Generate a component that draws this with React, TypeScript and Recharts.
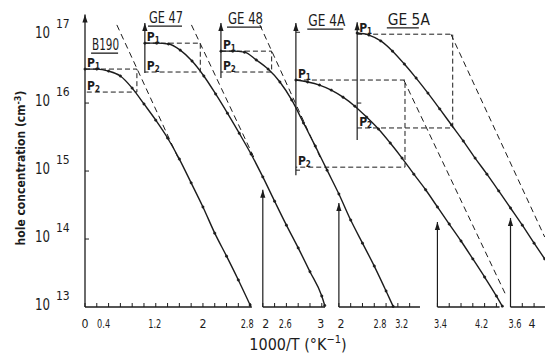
import React from 'react';
import { ComposedChart, Line, XAxis, YAxis, ReferenceDot, Label } from 'recharts';

const W = 545;
const H = 358;
const INK = '#1c1c1c';
const FONT = '"Liberation Sans Narrow","DejaVu Sans Condensed","Arial Narrow","Liberation Sans",sans-serif';
const Y_MIN = 1e13;
const Y_TOP = 2e17;

// each sample is drawn against its own 1000/T origin, shifted along the shared scale
const sampleNames = ['B190', 'GE47', 'GE48', 'GE4A', 'GE5A'];
const sampleOffsets = [0, 1.015, 2.305, 2.576, 3.615];

// measured curves: local 1000/T (K^-1) and hole concentration (cm^-3)
const b190X = [0, 0.2, 0.4, 0.6, 0.8, 1.0, 1.2, 1.4, 1.6, 1.8, 2.0, 2.2, 2.4, 2.6, 2.8];
const b190P = [3.16e16, 3.16e16, 2.95e16, 2.5e16, 1.66e16, 9.7e15, 5.6e15, 3.06e15, 1.5e15, 6.7e14, 2.96e14, 1.22e14, 5.6e13, 2.5e13, 1.07e13];

const ge47X = [0, 0.2, 0.4, 0.6, 0.8, 1.0, 1.2, 1.4, 1.6, 1.8, 2.0, 2.2, 2.4, 2.6, 2.8, 3.0, 3.05];
const ge47P = [7.6e16, 7.6e16, 7.4e16, 6.0e16, 4.15e16, 2.5e16, 1.36e16, 7.1e15, 3.6e15, 1.78e15, 8.2e14, 3.6e14, 1.6e14, 7.4e13, 3.3e13, 1.45e13, 1.05e13];

const ge48X = [0, 0.2, 0.4, 0.6, 0.8, 1.0, 1.2, 1.4, 1.6, 1.8, 2.0, 2.2, 2.4, 2.6, 2.8, 2.92];
const ge48P = [5.8e16, 5.8e16, 5.6e16, 4.3e16, 3.16e16, 2.04e16, 1.11e16, 5.1e15, 2.33e15, 1.03e15, 4.6e14, 1.9e14, 8.7e13, 4.0e13, 1.72e13, 1.02e13];

const ge4aX = [1.0, 1.2, 1.4, 1.6, 1.8, 2.0, 2.2, 2.4, 2.6, 2.8, 3.0, 3.2, 3.4, 3.6, 3.8, 4.0, 4.2, 4.4, 4.5];
const ge4aP = [2.18e16, 2.04e16, 1.84e16, 1.55e16, 1.22e16, 9.0e15, 6.2e15, 4.15e15, 2.58e15, 1.55e15, 9.0e14, 5.3e14, 2.96e14, 1.66e14, 9.35e13, 5.1e13, 2.76e13, 1.45e13, 1.03e13];

const ge5aX = [1.0, 1.2, 1.4, 1.6, 1.8, 2.0, 2.2, 2.4, 2.6, 2.8, 3.0, 3.2, 3.4, 3.6, 3.8, 4.0, 4.18];
const ge5aP = [1.07e17, 1.0e17, 8.2e16, 5.8e16, 3.75e16, 2.33e16, 1.4e16, 8.2e15, 4.75e15, 2.76e15, 1.55e15, 9.0e14, 5.1e14, 2.86e14, 1.6e14, 8.7e13, 5.1e13];

const curveX = [b190X, ge47X, ge48X, ge4aX, ge5aX];
const curveP = [b190P, ge47P, ge48P, ge4aP, ge5aP];

// p1 / p2 construction (per sample)
const p1Levels = [3.16e16, 7.6e16, 5.8e16, 2.18e16, 1.03e17];
const p2Levels = [1.45e16, 2.86e16, 2.86e16, 1.14e15, 4.3e15];
const pStartX = [0, 0, 0, 1.0, 1.0];
const pCornerX = [0.88, 0.94, 0.86, 2.85, 2.62];

// dashed asymptotes (local x, p) -> (local x, p)
const asymX1 = [0.54, 0.79, 0.66, 2.83, 2.59];
const asymP1 = [1.41e17, 1.41e17, 1.41e17, 2.18e16, 1.03e17];
const asymX2 = [1.58, 1.87, 1.68, 4.56, 4.18];
const asymP2 = [1.55e15, 1.45e15, 1.6e15, 1.5e13, 1.07e14];

// small vertical axes at top of each sample (B190 uses the main axis)
const insetLow = [0, 2.76e16, 2.33e16, 8.7e14, 2.86e15];
const insetHigh = [0, 1.5e17, 1.5e17, 1.5e17, 1.54e17];
const insetTicks: number[][] = [[], [], [], [1.1e17, 1.03e15], [1e16]];

// titles
const titleText = ['B190', 'GE 47', 'GE 48', 'GE 4A', 'GE 5A'];
const titleX = [0.12, 0.07, 0.12, 1.21, 1.52];
const titleP = [6.0e16, 1.5e17, 1.45e17, 1.35e17, 1.41e17];
const titleWidth = [27, 34, 35, 37, 42];
const underlineWidth = [27, 34, 35, 36, 32];

// bottom axis segments (belonging to samples 0..4)
const segStart = [0, 2.0, 2.0, 3.4, 3.6];
const segEnd = [2.83, 3.055, 3.375, 4.454, 4.185];
const segArrowTop = [0, 5.3e14, 3.4e14, 1.78e14, 2.04e14];
const segTicks = [
  [0, 0.2, 0.4, 0.6, 0.8, 1, 1.2, 1.4, 1.6, 1.8, 2, 2.2, 2.4, 2.6, 2.8],
  [2, 2.2, 2.4, 2.6, 2.8, 3],
  [2, 2.2, 2.4, 2.6, 2.8, 3, 3.2],
  [3.4, 3.6, 3.8, 4, 4.2, 4.4],
  [3.6, 3.8, 4],
];
const segLabels = [
  ['0', '0.4', '1.2', '2', '2.8'],
  ['2', '2.6', '3'],
  ['2', '2.8', '3.2'],
  ['3.4', '4.2'],
  ['3.6', '4'],
];
// hand-lettered label placement relative to its tick (px)
const segLabelNudge = [
  [0, -5, -1, 0, -3],
  [3, -13, -1],
  [2, -6, -8],
  [3, -3],
  [4.5, -2],
];
const yTicks = [1e13, 1e14, 1e15, 1e16, 1e17];

const r4 = (v: number) => Math.round(v * 10000) / 10000;
const toU = (x: number, i: number) => r4(x + sampleOffsets[i]);

const xTicks: number[] = [];
const xLabelMap: Record<string, { text: string; dx: number }> = {};
segTicks.forEach((ts, i) => ts.forEach((t) => xTicks.push(toU(t, i))));
segLabels.forEach((ls, i) =>
  ls.forEach((l, k) => {
    xLabelMap[toU(parseFloat(l), i).toFixed(3)] = { text: l, dx: segLabelNudge[i][k] };
  })
);

function XTick(props: any) {
  const { x, y, payload } = props;
  const lab = xLabelMap[Number(payload.value).toFixed(3)];
  return (
    <g>
      <line x1={x} x2={x} y1={y} y2={y - 4} stroke={INK} strokeWidth={1} />
      {lab !== undefined && (
        <text x={x + lab.dx} y={y + 21} textAnchor="middle" fontSize={13} fontFamily={FONT} fill={INK}
          textLength={lab.text.length === 1 ? 7 : 13} lengthAdjust="spacingAndGlyphs">{lab.text}</text>
      )}
    </g>
  );
}

function YTick(props: any) {
  const { x, y, payload } = props;
  const exp = Math.round(Math.log10(payload.value));
  return (
    <g>
      {exp > 13 && exp < 17 && <line x1={x} x2={x + 4} y1={y} y2={y} stroke={INK} strokeWidth={1} />}
      <text x={x - 50} y={y + 3} fontSize={15} fontFamily={FONT} fill={INK} textLength={15} lengthAdjust="spacingAndGlyphs">10</text>
      <text x={x - 29} y={y - 7} fontSize={12} fontFamily={FONT} fill={INK}>{exp}</text>
    </g>
  );
}

const renderXLabel = () => (
  <text x={298} y={350} textAnchor="middle" fontSize={16} fontFamily={FONT} fill={INK}>
    1000/T (°K<tspan dy={-7} fontSize={11}>−1</tspan><tspan dy={7}>)</tspan>
  </text>
);

const renderYLabel = () => (
  <text transform="translate(25,168) rotate(-90)" x={0} y={0} textAnchor="middle" fontSize={12} fontWeight="bold" fontFamily={FONT} fill={INK}>
    hole concentration (cm<tspan dy={-4} fontSize={9}>-3</tspan><tspan dy={4}>)</tspan>
  </text>
);

const Arrow = (p: any) => (
  <path d={`M${p.cx},${p.cy} L${p.cx - 2.6},${p.cy + 8} L${p.cx + 2.6},${p.cy + 8} Z`} fill={INK} />
);

const makeTitle = (i: number) => (p: any) => (
  <g>
    <text x={p.cx} y={p.cy} fontSize={15} fontFamily={FONT} fill={INK} textLength={titleWidth[i]} lengthAdjust="spacingAndGlyphs">{titleText[i]}</text>
    <line x1={p.cx - 1} x2={p.cx - 1 + underlineWidth[i]} y1={p.cy + 3} y2={p.cy + 3} stroke={INK} strokeWidth={1.3} />
  </g>
);

const makeP = (n: string) => (p: any) => (
  <text x={p.cx + 2} y={p.cy - 2} fontSize={12} fontWeight="bold" fontFamily={FONT} fill={INK}>
    P<tspan dy={2} fontSize={8}>{n}</tspan>
  </text>
);

const lineProps = { dataKey: 'y', isAnimationActive: false, dot: false, activeDot: false, legendType: 'none' as const };

export default function App() {
  const elements: React.ReactNode[] = [];

  // bottom axis segments + vertical arrows
  segStart.forEach((s, i) => {
    elements.push(
      <Line key={`seg${i}`} {...lineProps} type="linear" stroke={INK} strokeWidth={1.3}
        data={[{ u: toU(s, i), y: Y_MIN }, { u: toU(segEnd[i], i), y: Y_MIN }]} />
    );
    if (i > 0) {
      elements.push(
        <Line key={`segv${i}`} {...lineProps} type="linear" stroke={INK} strokeWidth={1.2}
          data={[{ u: toU(s, i), y: Y_MIN }, { u: toU(s, i), y: segArrowTop[i] }]} />
      );
    }
  });

  // inset axes
  for (let i = 1; i < 5; i++) {
    const u = toU(pStartX[i], i);
    elements.push(
      <Line key={`ins${i}`} {...lineProps} type="linear" stroke={INK} strokeWidth={1.2}
        data={[{ u, y: insetLow[i] }, { u, y: insetHigh[i] }]} />
    );
    insetTicks[i].forEach((t, k) => {
      elements.push(
        <Line key={`insT${i}_${k}`} {...lineProps} type="linear" stroke={INK} strokeWidth={1}
          data={[{ u, y: t }, { u: r4(u + 0.07), y: t }]} />
      );
    });
  }

  // p1/p2 dashed boxes and asymptotes
  for (let i = 0; i < 5; i++) {
    const a = toU(pStartX[i], i);
    const c = toU(pCornerX[i], i);
    elements.push(
      <Line key={`box${i}`} {...lineProps} type="linear" stroke={INK} strokeWidth={1} strokeDasharray="5 3"
        data={[{ u: a, y: p1Levels[i] }, { u: c, y: p1Levels[i] }, { u: c, y: p2Levels[i] }, { u: a, y: p2Levels[i] }]} />
    );
    elements.push(
      <Line key={`asym${i}`} {...lineProps} type="linear" stroke={INK} strokeWidth={1} strokeDasharray="6 4"
        data={[{ u: toU(asymX1[i], i), y: asymP1[i] }, { u: toU(asymX2[i], i), y: asymP2[i] }]} />
    );
  }

  // measured curves
  for (let i = 0; i < 5; i++) {
    elements.push(
      <Line key={`curve${i}`} name={sampleNames[i]} {...lineProps} type="monotone" stroke={INK} strokeWidth={1.4}
        dot={{ r: 1.2, fill: INK, stroke: INK, strokeWidth: 0.5 }}
        data={curveX[i].map((x, k) => ({ u: toU(x, i), y: curveP[i][k] }))} />
    );
  }

  const dots: React.ReactNode[] = [];
  dots.push(<ReferenceDot key="arrMain" x={0} y={Y_TOP} r={1} shape={Arrow} />);
  for (let i = 1; i < 5; i++) {
    dots.push(<ReferenceDot key={`arrIns${i}`} x={toU(pStartX[i], i)} y={insetHigh[i]} r={1} shape={Arrow} />);
    dots.push(<ReferenceDot key={`arrSeg${i}`} x={toU(segStart[i], i)} y={segArrowTop[i]} r={1} shape={Arrow} />);
  }
  for (let i = 0; i < 5; i++) {
    dots.push(<ReferenceDot key={`title${i}`} x={toU(titleX[i], i)} y={titleP[i]} r={1} shape={makeTitle(i)} />);
    dots.push(<ReferenceDot key={`p1_${i}`} x={toU(pStartX[i], i)} y={p1Levels[i]} r={1} shape={makeP('1')} />);
    dots.push(<ReferenceDot key={`p2_${i}`} x={toU(pStartX[i], i)} y={p2Levels[i]} r={1} shape={makeP('2')} />);
  }

  return (
    <div style={{ position: 'absolute', left: 0, top: 0, width: W, height: H, background: '#fff' }}>
      <ComposedChart width={W} height={H} margin={{ top: 14.6, right: 0, bottom: 0, left: 0 }}>
        <XAxis type="number" dataKey="u" domain={[0, 7.8]} ticks={xTicks} interval={0}
          tick={<XTick />} tickLine={false} axisLine={false} tickSize={0} tickMargin={0} height={51}>
          <Label content={renderXLabel} />
        </XAxis>
        <YAxis type="number" scale="log" domain={[Y_MIN, Y_TOP]} ticks={yTicks} interval={0}
          tick={<YTick />} tickLine={false} axisLine={{ stroke: INK, strokeWidth: 1.3 }} tickSize={0} tickMargin={0} width={85}>
          <Label content={renderYLabel} />
        </YAxis>
        {elements}
        {dots}
      </ComposedChart>
    </div>
  );
}
